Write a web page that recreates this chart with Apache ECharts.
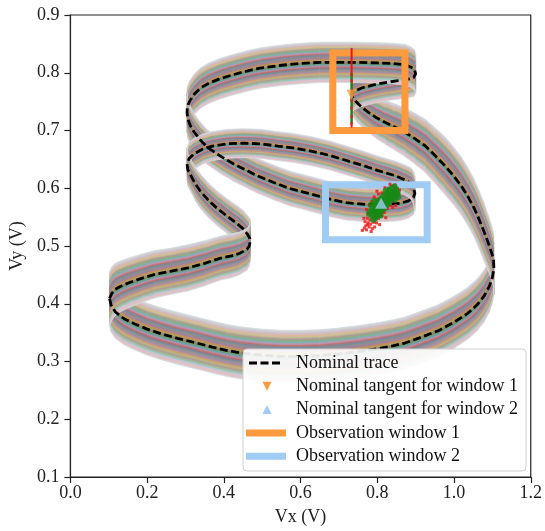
<!DOCTYPE html>
<html>
<head>
<meta charset="utf-8">
<script src="https://cdn.jsdelivr.net/npm/echarts@6/dist/echarts.min.js"></script>
<style>html,body{margin:0;padding:0;background:#fff}#c{width:545px;height:531px}</style>
</head>
<body>
<div id="c"></div>
<script>
// ---- data ----
const xTicks = [0.0, 0.2, 0.4, 0.6, 0.8, 1.0, 1.2];
const yTicks = [0.1, 0.2, 0.3, 0.4, 0.5, 0.6, 0.7, 0.8, 0.9];

// nominal trace (closed orbit), in order
const traceX = [0.102,0.106,0.117,0.140,0.168,0.200,0.237,0.280,0.323,0.370,0.409,0.443,0.500,0.550,0.600,0.650,0.700,0.750,0.800,0.840,0.872,0.910,0.958,1.000,1.035,1.060,1.078,1.092,1.100,1.104,1.103,1.098,1.090,1.078,1.066,1.053,1.036,1.018,0.997,0.975,0.950,0.924,0.898,0.872,0.846,0.821,0.798,0.778,0.758,0.743,0.735,0.733,0.740,0.761,0.790,0.821,0.850,0.881,0.895,0.900,0.897,0.887,0.872,0.840,0.800,0.750,0.700,0.650,0.600,0.550,0.494,0.460,0.426,0.391,0.361,0.340,0.323,0.311,0.305,0.304,0.306,0.313,0.323,0.338,0.357,0.390,0.426,0.456,0.486,0.530,0.570,0.610,0.650,0.683,0.720,0.769,0.820,0.860,0.881,0.894,0.898,0.895,0.889,0.870,0.846,0.800,0.760,0.720,0.675,0.630,0.580,0.541,0.494,0.450,0.409,0.370,0.345,0.323,0.310,0.304,0.306,0.314,0.326,0.340,0.360,0.383,0.410,0.434,0.450,0.462,0.468,0.469,0.466,0.460,0.440,0.420,0.391,0.350,0.306,0.260,0.220,0.185,0.151,0.130,0.117,0.108,0.102];
const traceY = [0.409,0.398,0.386,0.374,0.365,0.356,0.348,0.340,0.333,0.325,0.319,0.315,0.311,0.309,0.309,0.310,0.313,0.317,0.322,0.327,0.332,0.341,0.353,0.368,0.383,0.398,0.413,0.430,0.446,0.461,0.476,0.488,0.504,0.525,0.545,0.565,0.586,0.605,0.623,0.640,0.657,0.674,0.686,0.697,0.706,0.714,0.722,0.731,0.741,0.751,0.758,0.763,0.768,0.774,0.779,0.783,0.786,0.789,0.792,0.798,0.805,0.810,0.814,0.816,0.817,0.818,0.818,0.818,0.816,0.813,0.808,0.803,0.797,0.790,0.782,0.774,0.763,0.751,0.741,0.731,0.720,0.708,0.697,0.684,0.671,0.656,0.642,0.632,0.622,0.610,0.600,0.593,0.586,0.580,0.575,0.572,0.572,0.574,0.578,0.584,0.591,0.600,0.608,0.615,0.622,0.631,0.640,0.648,0.657,0.664,0.670,0.673,0.677,0.678,0.677,0.673,0.668,0.660,0.652,0.642,0.632,0.622,0.607,0.594,0.579,0.565,0.551,0.539,0.530,0.520,0.513,0.508,0.500,0.494,0.487,0.483,0.479,0.470,0.462,0.456,0.451,0.444,0.436,0.430,0.425,0.418,0.409];
// vertical spread (half width) of the Monte-Carlo traces around each nominal point
const spreadY = [0.047,0.047,0.046,0.045,0.045,0.045,0.045,0.045,0.045,0.045,0.045,0.045,0.045,0.045,0.045,0.045,0.045,0.045,0.045,0.045,0.045,0.045,0.045,0.045,0.045,0.045,0.045,0.045,0.045,0.045,0.046,0.047,0.048,0.050,0.050,0.050,0.050,0.050,0.050,0.050,0.048,0.046,0.044,0.042,0.040,0.038,0.036,0.035,0.034,0.033,0.033,0.033,0.032,0.032,0.032,0.032,0.032,0.032,0.033,0.034,0.035,0.035,0.035,0.035,0.035,0.035,0.035,0.035,0.035,0.035,0.035,0.035,0.035,0.035,0.035,0.035,0.035,0.035,0.035,0.035,0.034,0.033,0.032,0.031,0.030,0.030,0.030,0.030,0.030,0.030,0.030,0.030,0.030,0.030,0.030,0.030,0.030,0.030,0.030,0.030,0.030,0.028,0.027,0.026,0.025,0.025,0.025,0.025,0.025,0.025,0.025,0.025,0.025,0.025,0.025,0.025,0.026,0.027,0.028,0.028,0.028,0.028,0.029,0.030,0.030,0.030,0.030,0.031,0.032,0.033,0.034,0.035,0.035,0.036,0.037,0.038,0.038,0.039,0.040,0.040,0.041,0.042,0.043,0.044,0.045,0.046,0.047];

// observation windows [xmin, xmax] / [ymin, ymax]
const window1X = [0.684, 0.872], window1Y = [0.700, 0.834];
const window2X = [0.665, 0.930], window2Y = [0.511, 0.606];

// nominal tangent points
const tangent1 = [[0.733, 0.762]];
const tangent2 = [[0.810, 0.574]];

// tangent scatter for window 1 (vertical line of points)
const tan1Red = [[0.733, 0.705], [0.733, 0.843]];
const tan1Green = [[0.733, 0.712], [0.733, 0.800]];
const tan1RedDots = [[0.733,0.712],[0.733,0.724],[0.733,0.739],[0.733,0.752],[0.733,0.786],[0.733,0.797]];

// tangent scatter for window 2
const tan2Red = [[0.761,0.527],[0.766,0.531],[0.770,0.535],[0.772,0.528],[0.776,0.540],[0.779,0.533],[0.781,0.545],[0.768,0.542],[0.774,0.548],[0.783,0.538],[0.787,0.530],[0.777,0.556],[0.772,0.563],[0.780,0.570],[0.786,0.577],[0.792,0.585],[0.798,0.540],[0.803,0.548],[0.791,0.541],[0.812,0.552],[0.818,0.558],[0.826,0.565],[0.834,0.570],[0.842,0.578],[0.850,0.583],[0.855,0.592],[0.852,0.600],[0.846,0.606],[0.838,0.604],[0.829,0.600],[0.820,0.601],[0.812,0.592],[0.803,0.590],[0.797,0.580],[0.858,0.597],[0.848,0.570],[0.784,0.525],[0.793,0.533],[0.765,0.548],[0.799,0.595],[0.833,0.607],[0.840,0.567],[0.822,0.549],[0.806,0.537],[0.775,0.537],[0.789,0.549]];
const tan2Green = [[0.786,0.551],[0.790,0.556],[0.795,0.560],[0.800,0.563],[0.805,0.567],[0.810,0.571],[0.815,0.575],[0.820,0.579],[0.825,0.583],[0.830,0.586],[0.835,0.589],[0.840,0.592],[0.845,0.595],[0.849,0.598],[0.795,0.548],[0.800,0.552],[0.806,0.557],[0.812,0.561],[0.818,0.565],[0.824,0.570],[0.830,0.575],[0.836,0.580],[0.842,0.585],[0.848,0.589],[0.853,0.592],[0.781,0.560],[0.786,0.565],[0.791,0.569],[0.797,0.573],[0.803,0.578],[0.809,0.582],[0.815,0.586],[0.821,0.590],[0.827,0.594],[0.833,0.598],[0.839,0.601],[0.790,0.545],[0.845,0.603],[0.855,0.585],[0.778,0.556],[0.808,0.553],[0.822,0.596],[0.802,0.558],[0.817,0.569],[0.828,0.579],[0.838,0.587],[0.794,0.566],[0.807,0.575],[0.788,0.561],[0.799,0.569],[0.811,0.578],[0.823,0.586],[0.834,0.594],[0.813,0.566],[0.826,0.574],[0.839,0.583],[0.850,0.590],[0.798,0.556],[0.784,0.572],[0.792,0.578],[0.846,0.580]];

// ---- styles ----
const FONT = 'Liberation Serif';
const ORANGE = '#fd9a3e';
const BLUE = '#a0ccf4';
const tab10 = ['#1f77b4','#ff7f0e','#2ca02c','#d62728','#9467bd','#8c564b','#e377c2','#7f7f7f','#bcbd22','#17becf'];

function hexRgb(h){return [parseInt(h.slice(1,3),16),parseInt(h.slice(3,5),16),parseInt(h.slice(5,7),16)];}
const bandStops = [];
(function(){
  const N = 30, gray = [140,124,118];
  for (let k = 0; k <= N; k++) {
    const t = k / N;
    const w = 1 - Math.pow(Math.abs(2*t - 1), 2.5);
    const a = 0.28 + 0.62 * w;
    const c = hexRgb(tab10[(k*7) % 10]).map((v,j)=> v*0.45 + gray[j]*0.55);
    const o = c.map(v => Math.round(255*(1-a) + v*a));
    bandStops.push({offset: t, color: 'rgb(' + o.join(',') + ')'});
  }
})();

const segData = [];
for (let i = 0; i < traceX.length - 1; i++) segData.push([traceX[i], traceY[i], i]);
const nominal = traceX.map((x, i) => [x, traceY[i]]);

function bandItem(params, api) {
  const i = api.value(2);
  const x0 = traceX[i], y0 = traceY[i], x1 = traceX[i+1], y1 = traceY[i+1];
  const h0 = spreadY[i], h1 = spreadY[i+1];
  const a = api.coord([x0, y0 + h0]), b = api.coord([x1, y1 + h1]);
  const c = api.coord([x1, y1 - h1]), d = api.coord([x0, y0 - h0]);
  const m0 = api.coord([x0, y0]), m1 = api.coord([x1, y1]);
  let dx = m1[0]-m0[0], dy = m1[1]-m0[1];
  const L = Math.hypot(dx, dy) || 1; dx /= L; dy /= L;
  const nx = -dy, ny = dx;
  const mx = (m0[0]+m1[0])/2, my = (m0[1]+m1[1])/2;
  const hpx = ((d[1]-a[1]) + (c[1]-b[1]))/4;
  let proj = -hpx * ny;
  if (Math.abs(proj) < 0.5) proj = proj < 0 ? -0.5 : 0.5;
  const grad = new echarts.graphic.LinearGradient(mx + proj*nx, my + proj*ny, mx - proj*nx, my - proj*ny, bandStops, true);
  return {type: 'polygon', shape: {points: [a, b, c, d]}, style: {fill: grad, stroke: grad, lineWidth: 0.8}};
}

function rectItem(wx, wy, color) {
  return function(params, api) {
    const p = api.coord([wx[0], wy[1]]), q = api.coord([wx[1], wy[0]]);
    return {type: 'rect', shape: {x: p[0], y: p[1], width: q[0]-p[0], height: q[1]-p[1]},
      style: {fill: 'none', stroke: color, lineWidth: 7, lineJoin: 'miter'}};
  };
}

const chart = echarts.init(document.getElementById('c'), null, {renderer: 'canvas'});
const axisCommon = {
  type: 'value', splitLine: {show: false},
  axisLine: {show: true, onZero: false, lineStyle: {color: '#222', width: 1.2}},
  axisTick: {show: true, inside: false, length: 6, lineStyle: {color: '#222', width: 1.2}},
  axisLabel: {color: '#222', fontFamily: FONT, fontSize: 18, formatter: v => v.toFixed(1)},
  nameLocation: 'middle',
  nameTextStyle: {color: '#222', fontFamily: FONT, fontSize: 18}
};

const L0 = 243, T0 = 349; // legend box (pixels)
const rows = [363, 386.3, 409.6, 433, 456.3];
const legendTexts = ['Nominal trace','Nominal tangent for window 1','Nominal tangent for window 2','Observation window 1','Observation window 2'];

chart.setOption({
  animation: false,
  backgroundColor: '#fff',
  grid: {left: 68, right: 11, top: 15, bottom: 50, show: true, borderColor: '#222', borderWidth: 1.2},
  xAxis: Object.assign({}, axisCommon, {min: 0, max: 1.2, interval: 0.2, name: 'Vx (V)', nameGap: 31,
    axisLabel: Object.assign({}, axisCommon.axisLabel, {margin: 7})}),
  yAxis: Object.assign({}, axisCommon, {min: 0.1, max: 0.9, interval: 0.1, name: 'Vy (V)', nameGap: 35, nameRotate: 90,
    axisLabel: Object.assign({}, axisCommon.axisLabel, {margin: 11})}),
  series: [
    {type: 'custom', name: 'traces', renderItem: bandItem, data: segData, z: 1, silent: true, clip: true},
    {type: 'line', name: 'Nominal trace', data: nominal, symbol: 'none', z: 3, silent: true,
      lineStyle: {color: '#000', width: 2.8, type: [8, 3.5]}},
    {type: 'custom', name: 'Observation window 1', renderItem: rectItem(window1X, window1Y, ORANGE), data: [[window1X[0], window1Y[0]]], z: 4, silent: true},
    {type: 'custom', name: 'Observation window 2', renderItem: rectItem(window2X, window2Y, BLUE), data: [[window2X[0], window2Y[0]]], z: 4, silent: true},
    {type: 'line', name: 'tan1 red', data: tan1Red, symbol: 'none', z: 5, lineStyle: {color: '#e8141c', width: 2}},
    {type: 'line', name: 'tan1 green', data: tan1Green, symbol: 'none', z: 5, lineStyle: {color: '#128a12', width: 2}},
    {type: 'scatter', name: 'tan1 red dots', data: tan1RedDots, symbol: 'rect', symbolSize: 2.5, z: 5, itemStyle: {color: '#e8141c'}},
    {type: 'scatter', name: 'tan2 red', data: tan2Red, symbol: 'rect', symbolSize: 3, z: 5, itemStyle: {color: '#f01010'}},
    {type: 'scatter', name: 'tan2 green', data: tan2Green, symbol: 'circle', symbolSize: 6, z: 6, itemStyle: {color: '#168a16'}},
    {type: 'scatter', name: 'Nominal tangent for window 1', data: tangent1, symbol: 'triangle', symbolRotate: 180, symbolSize: [10, 10], z: 7, itemStyle: {color: ORANGE}},
    {type: 'scatter', name: 'Nominal tangent for window 2', data: tangent2, symbol: 'triangle', symbolSize: [12, 11], z: 7, itemStyle: {color: BLUE}}
  ],
  graphic: [
    {type: 'rect', z: 100, shape: {x: L0, y: T0, width: 283, height: 122, r: 4},
      style: {fill: 'rgba(255,255,255,0.9)', stroke: '#cfcfcf', lineWidth: 1}},
    {type: 'line', z: 101, shape: {x1: 249, y1: rows[0], x2: 283, y2: rows[0]}, style: {stroke: '#000', lineWidth: 2.8, lineDash: [8, 3.5]}},
    {type: 'polygon', z: 101, shape: {points: [[262.5, rows[1]-4.5],[271.5, rows[1]-4.5],[267, rows[1]+4.5]]}, style: {fill: ORANGE}},
    {type: 'polygon', z: 101, shape: {points: [[262.5, rows[2]+4.5],[271.5, rows[2]+4.5],[267, rows[2]-4.5]]}, style: {fill: BLUE}},
    {type: 'rect', z: 101, shape: {x: 246, y: rows[3]-3.5, width: 40, height: 7}, style: {fill: ORANGE}},
    {type: 'rect', z: 101, shape: {x: 246, y: rows[4]-3.5, width: 40, height: 7}, style: {fill: BLUE}}
  ].concat(legendTexts.map((t, k) => ({
    type: 'text', z: 101, x: 296, y: rows[k],
    style: {text: t, fill: '#111', font: '18px "' + FONT + '"', textVerticalAlign: 'middle', verticalAlign: 'middle'}
  })))
});
</script>
</body>
</html>
